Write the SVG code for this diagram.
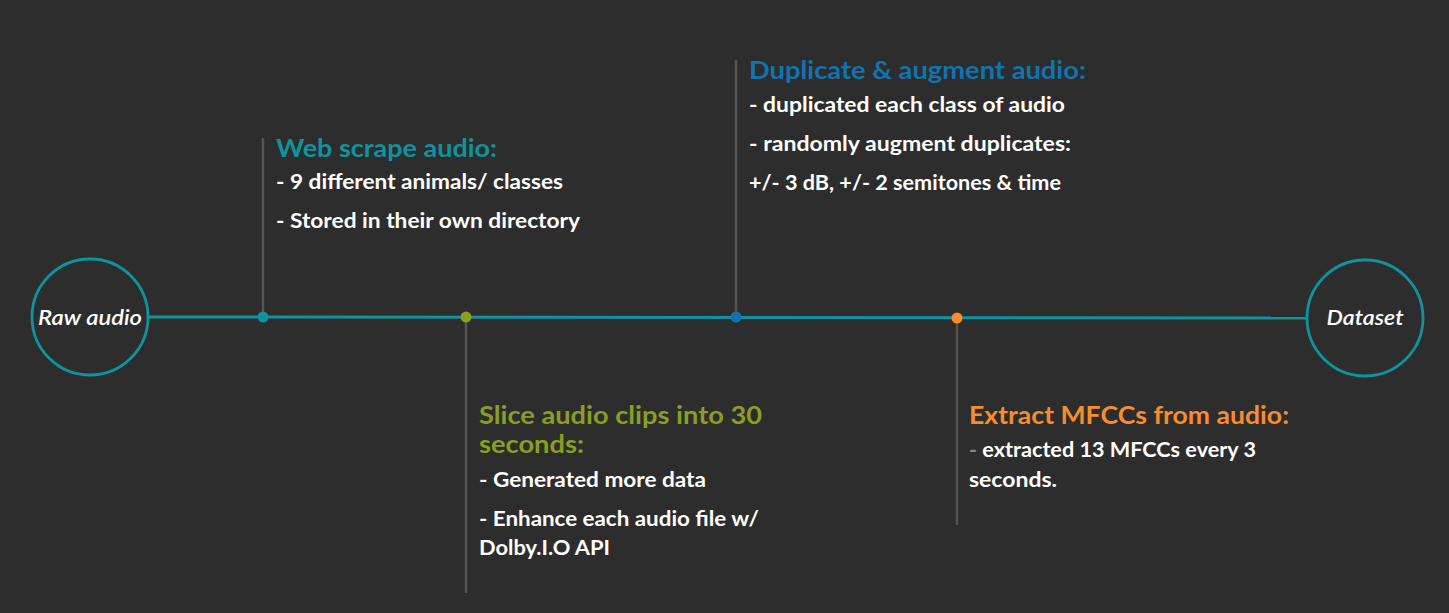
<svg xmlns="http://www.w3.org/2000/svg" width="1449" height="613" viewBox="0 0 1449 613">
<style>
text{font-family:Lato,"Open Sans","Noto Sans",sans-serif;font-weight:700}
.t{font-size:25px}
.b{font-size:21px;fill:#ffffff}
.n{font-size:21px;fill:#ffffff;font-style:italic;font-weight:600;text-anchor:middle}
.stem{stroke:#545454;stroke-width:2.5}
.node{fill:#2d2d2d;stroke:#0f939f;stroke-width:2.8}
</style>
<rect width="1449" height="613" fill="#2d2d2d"/>
<g id="connectors">
<line x1="148" y1="317" x2="1307" y2="318" stroke="#0f939f" stroke-width="3"/>
<line class="stem" x1="263" y1="138" x2="263" y2="317"/>
<line class="stem" x1="466" y1="317" x2="466" y2="593"/>
<line class="stem" x1="736" y1="60" x2="736" y2="317"/>
<line class="stem" x1="957" y1="318" x2="957" y2="525"/>
</g>
<g id="raw-audio">
<circle class="node" cx="90" cy="317" r="58"/>
<text class="n" x="90" y="325" textLength="104" lengthAdjust="spacingAndGlyphs">Raw audio</text>
</g>
<g id="dataset">
<circle class="node" cx="1365" cy="318" r="58"/>
<text class="n" x="1365" y="325" textLength="77" lengthAdjust="spacingAndGlyphs">Dataset</text>
</g>
<g id="web-scrape">
<circle cx="263" cy="317" r="5.5" fill="#0f939f"/>
<text class="t" x="276" y="157" fill="#0f939f" textLength="221" lengthAdjust="spacingAndGlyphs">Web scrape audio:</text>
<text class="b" x="276" y="189" textLength="287" lengthAdjust="spacingAndGlyphs">- 9 different animals/ classes</text>
<text class="b" x="276" y="228" textLength="304" lengthAdjust="spacingAndGlyphs">- Stored in their own directory</text>
</g>
<g id="slice">
<circle cx="466" cy="317" r="5.5" fill="#8a9e24"/>
<text class="t" x="479" y="424" fill="#8a9e24" textLength="283" lengthAdjust="spacingAndGlyphs">Slice audio clips into 30</text>
<text class="t" x="479" y="453" fill="#8a9e24" textLength="105" lengthAdjust="spacingAndGlyphs">seconds:</text>
<text class="b" x="479" y="487" textLength="227" lengthAdjust="spacingAndGlyphs">- Generated more data</text>
<text class="b" x="479" y="526" textLength="280" lengthAdjust="spacingAndGlyphs">- Enhance each audio file w/</text>
<text class="b" x="479" y="555" textLength="131" lengthAdjust="spacingAndGlyphs">Dolby.I.O API</text>
</g>
<g id="duplicate">
<circle cx="736" cy="317" r="5.5" fill="#0f74b0"/>
<text class="t" x="749" y="79" fill="#0f74b0" textLength="337" lengthAdjust="spacingAndGlyphs">Duplicate &amp; augment audio:</text>
<text class="b" x="749" y="112" textLength="316" lengthAdjust="spacingAndGlyphs">- duplicated each class of audio</text>
<text class="b" x="749" y="151" textLength="322" lengthAdjust="spacingAndGlyphs">- randomly augment duplicates:</text>
<text class="b" x="749" y="190" textLength="312" lengthAdjust="spacingAndGlyphs">+/- 3 dB, +/- 2 semitones &amp; time</text>
</g>
<g id="extract">
<circle cx="957" cy="318" r="5.5" fill="#f68d2e"/>
<text class="t" x="969" y="424" fill="#f68d2e" textLength="320" lengthAdjust="spacingAndGlyphs">Extract MFCCs from audio:</text>
<text class="b" x="969" y="457" textLength="287" lengthAdjust="spacingAndGlyphs"><tspan fill="#8a8a8a">-</tspan> extracted 13 MFCCs every 3</text>
<text class="b" x="969" y="487" textLength="88" lengthAdjust="spacingAndGlyphs">seconds.</text>
</g>
</svg>
